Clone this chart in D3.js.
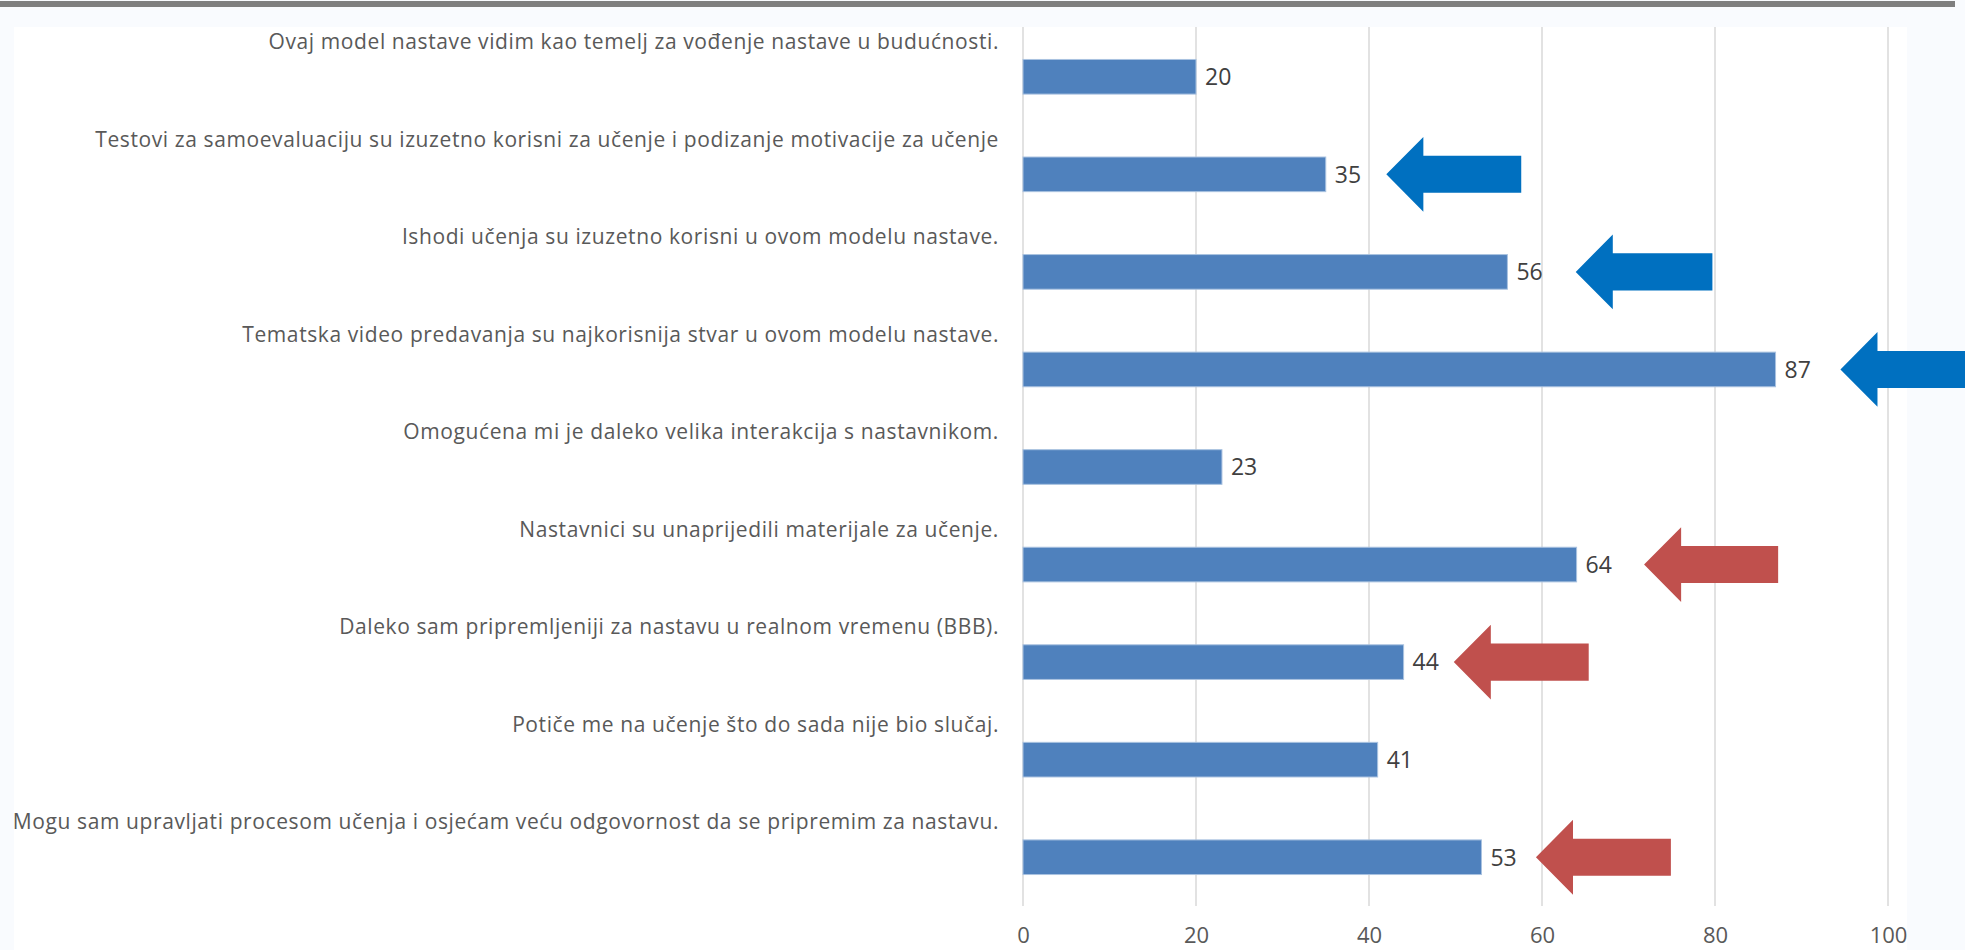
<!DOCTYPE html>
<html>
<head>
<meta charset="utf-8">
<script src="https://cdn.jsdelivr.net/npm/d3@7"></script>
<style>
  html, body { margin: 0; padding: 0; background: #f9fbfe; }
  svg { display: block; }
  text { font-family: "Open Sans", "Noto Sans", sans-serif; }
</style>
</head>
<body>
<svg id="chart" width="1965" height="950"></svg>
<script>
// Survey statements, listed top to bottom
const categories = [
  "Ovaj model nastave vidim kao temelj za vođenje nastave u budućnosti.",
  "Testovi za samoevaluaciju su izuzetno korisni za učenje i podizanje motivacije za učenje",
  "Ishodi učenja su izuzetno korisni u ovom modelu nastave.",
  "Tematska video predavanja su najkorisnija stvar u ovom modelu nastave.",
  "Omogućena mi je daleko velika interakcija s nastavnikom.",
  "Nastavnici su unaprijedili materijale za učenje.",
  "Daleko sam pripremljeniji za nastavu u realnom vremenu (BBB).",
  "Potiče me na učenje što do sada nije bio slučaj.",
  "Mogu sam upravljati procesom učenja i osjećam veću odgovornost da se pripremim za nastavu."
];
const values = [20, 35, 56, 87, 23, 64, 44, 41, 53];
const tickValues = [0, 20, 40, 60, 80, 100];

// Highlight arrows: statement index, tip and tail on the value axis, colour
const arrowRows   = [1, 2, 3, 5, 6, 8];
const arrowTips   = [42.0, 63.9, 94.5, 71.8, 49.8, 59.3];
const arrowTails  = [57.6, 79.7, 112, 87.3, 65.4, 74.9];
const arrowColors = ["#0070c0", "#0070c0", "#0070c0", "#c0504d", "#c0504d", "#c0504d"];

const svg = d3.select("#chart");

// page frame: grey rule on top, white plot panel
svg.append("rect").attr("x", 0).attr("y", 1).attr("width", 1955).attr("height", 6).attr("fill", "#7f7f7f");
svg.append("rect").attr("x", 14).attr("y", 27).attr("width", 1893).attr("height", 923).attr("fill", "#ffffff");

const plotTop = 28, plotBottom = 906;
const x = d3.scaleLinear().domain([0, 100]).range([1023, 1888]);
const y = d3.scaleBand().domain(categories).range([plotTop, plotBottom])
  .paddingInner(0.645).paddingOuter(0.3225);
const bw = y.bandwidth();

// vertical gridlines
svg.append("g").selectAll("line").data(tickValues).join("line")
  .attr("x1", d => x(d)).attr("x2", d => x(d))
  .attr("y1", 27).attr("y2", plotBottom)
  .attr("stroke", "#d9d9d9").attr("stroke-width", 1.5);

// value axis labels
const axis = svg.append("g").attr("transform", `translate(0,${plotBottom + 21})`)
  .call(d3.axisBottom(x).tickValues(tickValues).tickSize(0).tickPadding(0));
axis.select(".domain").remove();
axis.selectAll("text").attr("font-size", 22).attr("fill", "#595959")
  .attr("font-family", "'Open Sans', sans-serif");

// bars
svg.append("g").selectAll("rect").data(values).join("rect")
  .attr("x", x(0))
  .attr("y", (d, i) => y(categories[i]))
  .attr("width", d => x(d) - x(0))
  .attr("height", bw)
  .attr("fill", "#4f81bd")
  .attr("stroke", "#a9c2e0").attr("stroke-width", 1);

// value labels
svg.append("g").selectAll("text").data(values).join("text")
  .attr("x", d => x(d) + 9)
  .attr("y", (d, i) => y(categories[i]) + bw / 2)
  .attr("dy", "0.36em")
  .attr("font-size", 23).attr("fill", "#404040")
  .text(d => d);

// statement labels above each bar
svg.append("g").selectAll("text").data(categories).join("text")
  .attr("x", 999)
  .attr("y", d => y(d) - 18)
  .attr("dy", "0.36em")
  .attr("text-anchor", "end")
  .attr("font-size", 21).attr("letter-spacing", 0.6).attr("fill", "#595959")
  .text(d => d);

// block arrows pointing at selected bars
const headLen = bw * 1.07, headHalf = bw * 1.08, shaftHalf = bw * 0.535;
const arrowPath = (tip, tail, cy) => {
  const xt = x(tip), xb = xt + headLen, xe = x(tail);
  return `M${xt},${cy} L${xb},${cy - headHalf} L${xb},${cy - shaftHalf} L${xe},${cy - shaftHalf}` +
         ` L${xe},${cy + shaftHalf} L${xb},${cy + shaftHalf} L${xb},${cy + headHalf} Z`;
};
svg.append("g").selectAll("path").data(arrowRows).join("path")
  .attr("d", (r, i) => arrowPath(arrowTips[i], arrowTails[i], y(categories[r]) + bw / 2))
  .attr("fill", (r, i) => arrowColors[i]);
</script>
</body>
</html>
